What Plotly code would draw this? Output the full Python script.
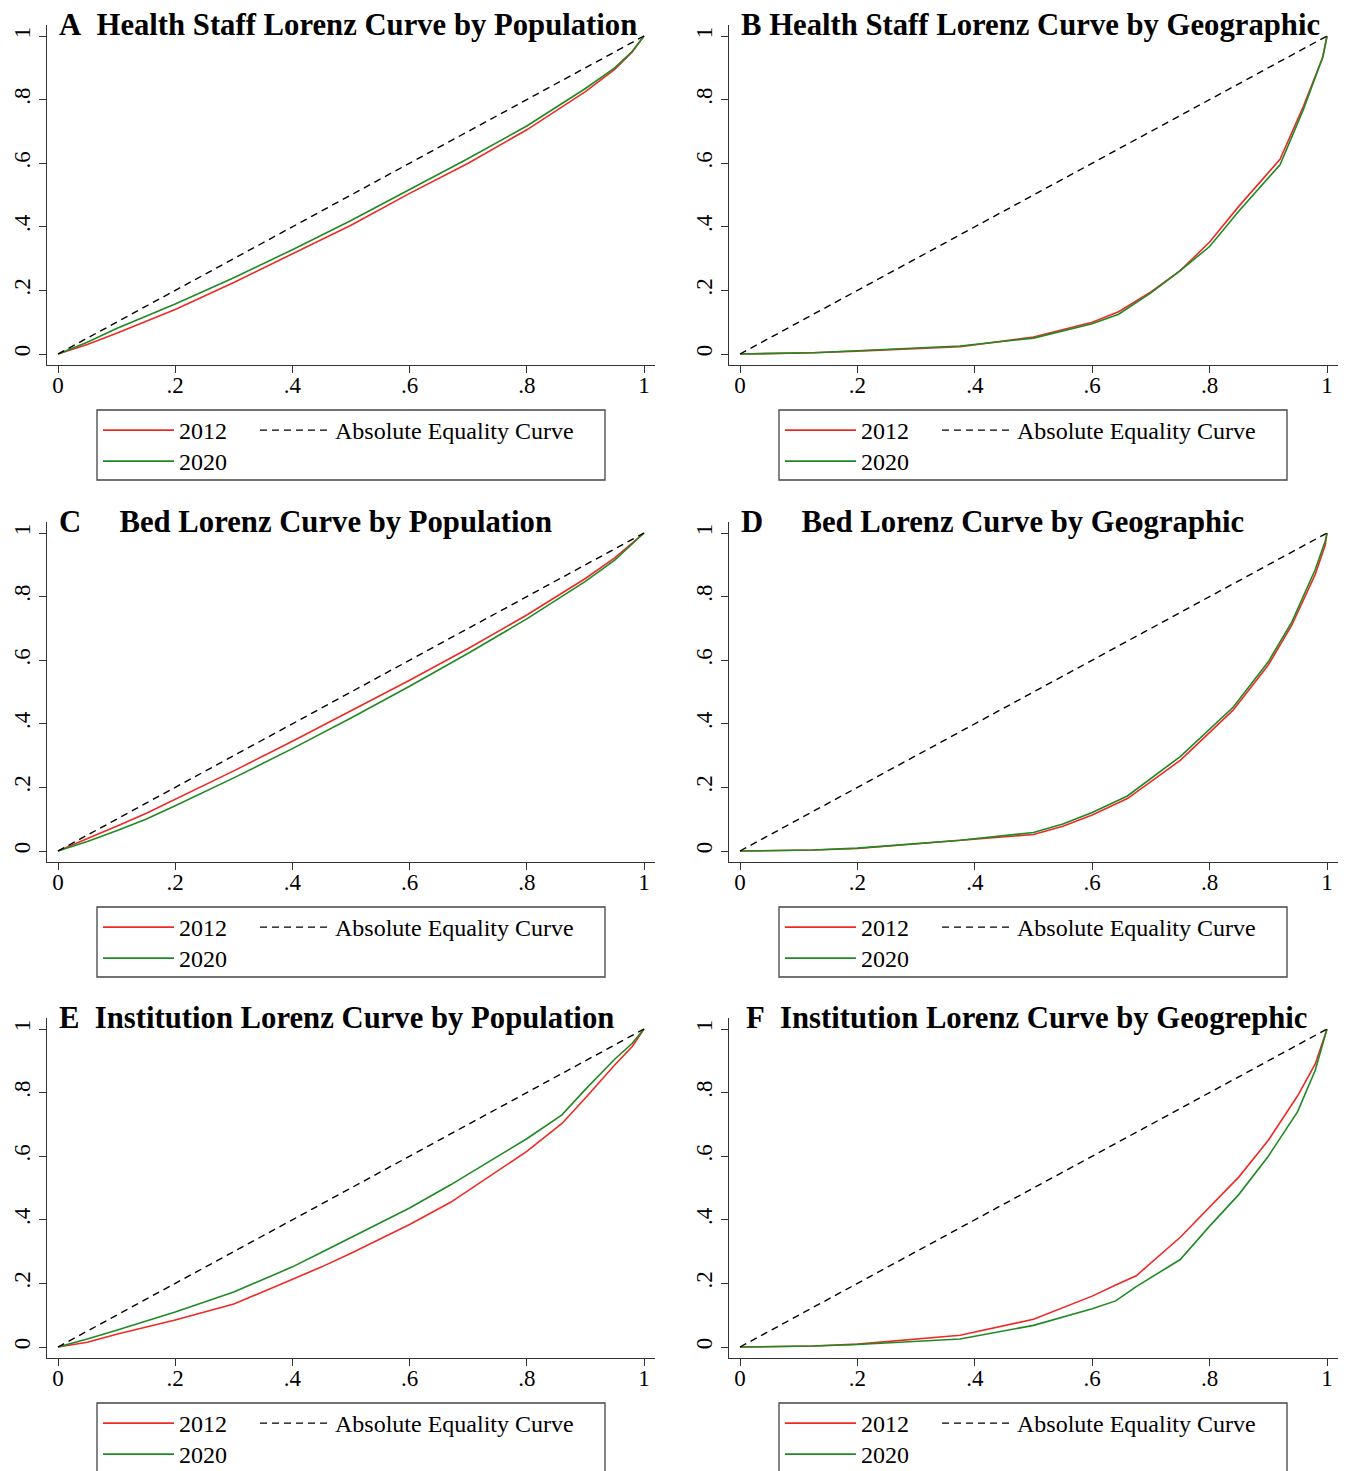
import plotly.graph_objects as go

# The page body has an 8px margin, so the figure is drawn 8px smaller
# and every reference pixel position is shifted by OFF.
OFF = 8
W, H = 1348 - OFF, 1471 - OFF

# ---------------- data ----------------
titles = [
    "A\u00a0\u00a0Health Staff Lorenz Curve by Population",
    "B\u00a0Health Staff Lorenz Curve by Geographic",
    "C\u00a0\u00a0\u00a0\u00a0\u00a0Bed Lorenz Curve by Population",
    "D\u00a0\u00a0\u00a0\u00a0\u00a0Bed Lorenz Curve by Geographic",
    "E\u00a0\u00a0Institution Lorenz Curve by Population",
    "F\u00a0\u00a0Institution Lorenz Curve by Geogrephic",
]

series_names = ["2012", "2020", "Absolute Equality Curve"]

A_x = [0, 0.05, 0.1, 0.2, 0.3, 0.4, 0.5, 0.6, 0.7, 0.8, 0.9, 0.95, 0.98, 1]
A_2012 = [0, 0.03, 0.065, 0.14, 0.225, 0.315, 0.405, 0.505, 0.60, 0.705, 0.825, 0.895, 0.95, 1]
A_2020 = [0, 0.037, 0.08, 0.157, 0.24, 0.328, 0.42, 0.518, 0.615, 0.717, 0.835, 0.90, 0.952, 1]

B_x = [0, 0.125, 0.2, 0.375, 0.5, 0.6, 0.645, 0.7, 0.75, 0.8, 0.85, 0.92, 0.96, 0.993, 1]
B_2012 = [0, 0.004, 0.009, 0.023, 0.053, 0.10, 0.133, 0.195, 0.262, 0.352, 0.465, 0.612, 0.78, 0.935, 1]
B_2020 = [0, 0.004, 0.010, 0.025, 0.050, 0.095, 0.125, 0.192, 0.262, 0.338, 0.450, 0.595, 0.77, 0.935, 1]

C_x = [0, 0.05, 0.1, 0.15, 0.2, 0.3, 0.4, 0.5, 0.6, 0.7, 0.8, 0.9, 0.95, 1]
C_2012 = [0, 0.038, 0.078, 0.118, 0.162, 0.252, 0.345, 0.44, 0.537, 0.637, 0.742, 0.857, 0.922, 1]
C_2020 = [0, 0.030, 0.064, 0.100, 0.142, 0.230, 0.322, 0.418, 0.518, 0.622, 0.730, 0.848, 0.915, 1]

D_x = [0, 0.125, 0.2, 0.375, 0.5, 0.55, 0.6, 0.66, 0.75, 0.84, 0.9, 0.94, 0.98, 0.997, 1]
D_2012 = [0, 0.003, 0.008, 0.033, 0.052, 0.078, 0.113, 0.165, 0.285, 0.443, 0.585, 0.71, 0.87, 0.962, 1]
D_2020 = [0, 0.003, 0.009, 0.034, 0.058, 0.085, 0.121, 0.173, 0.297, 0.452, 0.595, 0.72, 0.885, 0.975, 1]

E_x = [0, 0.05, 0.1, 0.2, 0.3, 0.4, 0.45, 0.5, 0.6, 0.67, 0.75, 0.8, 0.86, 0.9, 0.95, 0.98, 1]
E_2012 = [0, 0.015, 0.04, 0.085, 0.135, 0.213, 0.252, 0.295, 0.385, 0.455, 0.552, 0.615, 0.703, 0.783, 0.887, 0.945, 1]
E_2020 = [0, 0.025, 0.053, 0.110, 0.173, 0.252, 0.298, 0.345, 0.437, 0.510, 0.600, 0.655, 0.730, 0.810, 0.905, 0.955, 1]

F_x = [0, 0.125, 0.2, 0.375, 0.5, 0.6, 0.64, 0.675, 0.75, 0.8, 0.85, 0.9, 0.95, 0.98, 1]
F_2012 = [0, 0.003, 0.009, 0.037, 0.087, 0.160, 0.195, 0.224, 0.345, 0.440, 0.535, 0.650, 0.790, 0.890, 1]
F_2020 = [0, 0.003, 0.008, 0.025, 0.068, 0.120, 0.145, 0.190, 0.275, 0.380, 0.480, 0.600, 0.740, 0.870, 1]

equality_x = [0, 1]
equality_y = [0, 1]

tick_vals = [0, 0.2, 0.4, 0.6, 0.8, 1]
tick_text = ["0", ".2", ".4", ".6", ".8", "1"]

panels = [
    (A_x, A_2012, A_2020),
    (B_x, B_2012, B_2020),
    (C_x, C_2012, C_2020),
    (D_x, D_2012, D_2020),
    (E_x, E_2012, E_2020),
    (F_x, F_2012, F_2020),
]

# ---------------- style / layout ----------------
RED = "#ee2a24"
GREEN = "#1f8a24"
AXC = "#333333"
SERIF = "Liberation Serif, Times New Roman, serif"


def PX(p):
    return (p - OFF) / W


def PY(p):
    return 1 - (p - OFF) / H


col_x0 = [58, 740]      # reference pixel of data 0 on x
col_x1 = [644, 1327]    # reference pixel of data 1 on x
row_off = [0, 497, 993]
y0_px, y1_px = 354, 36  # reference pixel of data 0 / 1 on y (row 1)
pad = 11
title_x = [58, 740, 58, 740, 58, 745]

fig = go.Figure()
layout = dict(
    width=W, height=H,
    margin=dict(l=0, r=0, t=0, b=0, autoexpand=False),
    paper_bgcolor="white", plot_bgcolor="white",
    font=dict(family=SERIF, color="black"),
    showlegend=True,
    shapes=[], annotations=[],
)

for i, (xs, y12, y20) in enumerate(panels):
    r, c = divmod(i, 2)
    ax = "" if i == 0 else str(i + 1)
    x0, x1 = col_x0[c], col_x1[c]
    yy0, yy1 = y0_px + row_off[r], y1_px + row_off[r]
    xw = x1 - x0
    yh = yy0 - yy1
    legs = [("legend" if (3 * i + k) == 1 else f"legend{3 * i + k}") for k in (1, 2, 3)]

    fig.add_trace(go.Scatter(x=xs, y=y12, mode="lines", name=series_names[0],
                             line=dict(color=RED, width=1.6), showlegend=True,
                             xaxis="x" + ax, yaxis="y" + ax, legend=legs[0]))
    fig.add_trace(go.Scatter(x=xs, y=y20, mode="lines", name=series_names[1],
                             line=dict(color=GREEN, width=1.6), showlegend=True,
                             xaxis="x" + ax, yaxis="y" + ax, legend=legs[1]))
    fig.add_trace(go.Scatter(x=equality_x, y=equality_y, mode="lines", name=series_names[2],
                             line=dict(color="black", width=1.4, dash="7px,5px"),
                             showlegend=True,
                             xaxis="x" + ax, yaxis="y" + ax, legend=legs[2]))

    common = dict(showline=True, linecolor=AXC, linewidth=1, ticks="outside",
                  ticklen=7, tickcolor=AXC, tickwidth=1, showgrid=False,
                  zeroline=False, tickvals=tick_vals, ticktext=tick_text,
                  tickfont=dict(family=SERIF, size=23, color="black"),
                  fixedrange=True)
    layout["xaxis" + ax] = dict(
        common,
        domain=[PX(x0 - pad), PX(x1 + pad)],
        range=[-pad / xw, 1 + pad / xw],
        anchor="y" + ax,
        ticklabelstandoff=-8,
    )
    layout["yaxis" + ax] = dict(
        common,
        domain=[PY(yy0 + pad), PY(yy1 - pad)],
        range=[-pad / yh, 1 + pad / yh],
        anchor="x" + ax,
        tickangle=-90,
    )

    # title
    layout["annotations"].append(dict(
        text="<b>" + titles[i] + "</b>", xref="paper", yref="paper",
        x=PX(title_x[i]), y=PY(25 + row_off[r]),
        xanchor="left", yanchor="middle", showarrow=False, borderpad=0,
        font=dict(family=SERIF, size=30.7, color="black"),
    ))

    # legend box + legends
    bx = 97 + 682 * c
    by = 410 + row_off[r]
    layout["shapes"].append(dict(
        type="rect", xref="paper", yref="paper",
        x0=PX(bx), x1=PX(bx + 508), y0=PY(by), y1=PY(by + 70),
        line=dict(color="#444444", width=1.3), fillcolor="rgba(0,0,0,0)",
    ))
    leg_common = dict(orientation="v", xanchor="left", yanchor="top",
                      bgcolor="rgba(0,0,0,0)", borderwidth=0, visible=True,
                      font=dict(family=SERIF, size=24, color="black"))
    layout[legs[0]] = dict(leg_common, x=PX(bx + 1), y=PY(by - 2), itemwidth=71)
    layout[legs[1]] = dict(leg_common, x=PX(bx + 1), y=PY(by + 29), itemwidth=71)
    layout[legs[2]] = dict(leg_common, x=PX(bx + 158), y=PY(by - 2), itemwidth=70)

fig.update_layout(**layout)
fig.write_html("out.html")
